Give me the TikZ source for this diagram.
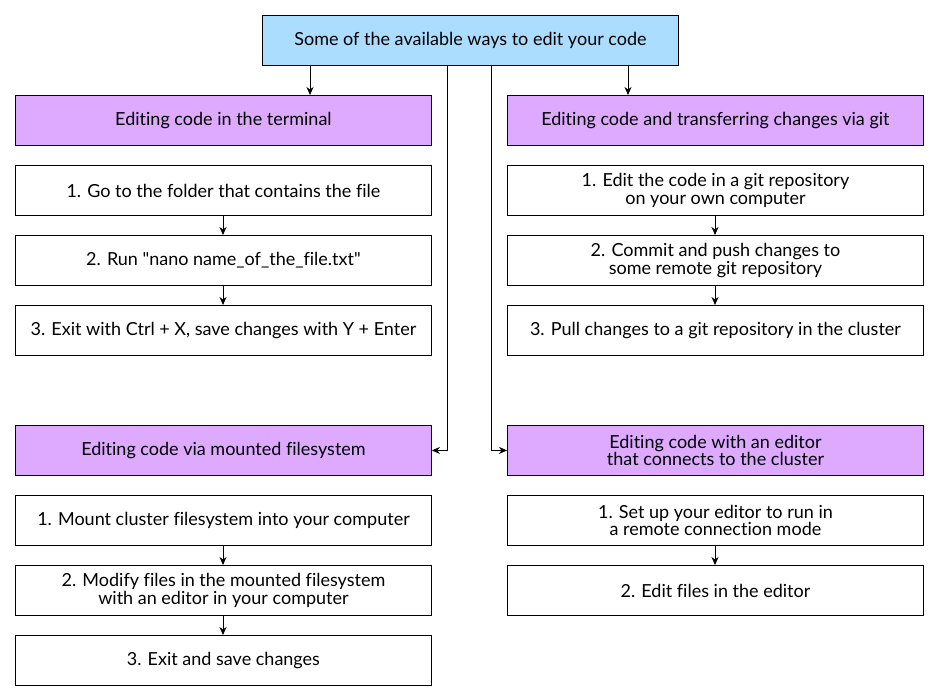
\documentclass[tikz,border=0pt]{standalone}
\usepackage{fontspec}
\setmainfont{Lato}[Ligatures={TeX,NoCommon}]
\usetikzlibrary{arrows.meta}
\definecolor{topblue}{HTML}{AADDFF}
\definecolor{headpurple}{HTML}{DDAAFF}
\begin{document}
\begin{tikzpicture}[x=1pt,y=-1pt,
  box/.style={draw=black,line width=0.9pt,minimum width=416pt,minimum height=50pt,inner sep=0pt,align=center,font=\fontsize{18}{17.5}\selectfont,anchor=north west},
  head/.style={box,fill=headpurple},
  topbox/.style={box,fill=topblue},
  arr/.style={-{Stealth[length=8pt,width=7pt,inset=2.5pt]},line width=0.9pt}]
\useasboundingbox (0,0) rectangle (939,700);
\node[topbox] (top) at (262,15) {Some of the available ways to edit your code};
\node[head] (lh) at (15,95) {Editing code in the terminal};
\node[box] (l1) at (15,165) {1. Go to the folder that contains the file};
\node[box] (l2) at (15,235) {2. Run \textquotedbl nano name\_of\_the\_file.txt\textquotedbl};
\node[box] (l3) at (15,305) {3. Exit with Ctrl + X, save changes with Y + Enter};
\node[head] (rh) at (507,95) {Editing code and transferring changes via git};
\node[box] (r1) at (507,165) {1. Edit the code in a git repository\\on your own computer};
\node[box] (r2) at (507,235) {2. Commit and push changes to\\some remote git repository};
\node[box] (r3) at (507,305) {3. Pull changes to a git repository in the cluster};
\node[head] (mh) at (15,425) {Editing code via mounted filesystem};
\node[box] (m1) at (15,495) {1. Mount cluster filesystem into your computer};
\node[box] (m2) at (15,565) {2. Modify files in the mounted filesystem\\with an editor in your computer};
\node[box] (m3) at (15,635) {3. Exit and save changes};
\node[head] (eh) at (507,425) {Editing code with an editor\\that connects to the cluster};
\node[box] (e1) at (507,495) {1. Set up your editor to run in\\a remote connection mode};
\node[box] (e2) at (507,565) {2. Edit files in the editor};
\draw[arr] (310,0 |- top.south) -- (310,0 |- lh.north);
\draw[arr] (628,0 |- top.south) -- (628,0 |- rh.north);
\draw[arr] (447,0 |- top.south) |- (mh.east);
\draw[arr] (491,0 |- top.south) |- (eh.west);
\draw[arr] (223,0 |- l1.south) -- (223,0 |- l2.north);
\draw[arr] (223,0 |- l2.south) -- (223,0 |- l3.north);
\draw[arr] (715,0 |- r1.south) -- (715,0 |- r2.north);
\draw[arr] (715,0 |- r2.south) -- (715,0 |- r3.north);
\draw[arr] (223,0 |- m1.south) -- (223,0 |- m2.north);
\draw[arr] (223,0 |- m2.south) -- (223,0 |- m3.north);
\draw[arr] (715,0 |- e1.south) -- (715,0 |- e2.north);
\end{tikzpicture}
\end{document}
